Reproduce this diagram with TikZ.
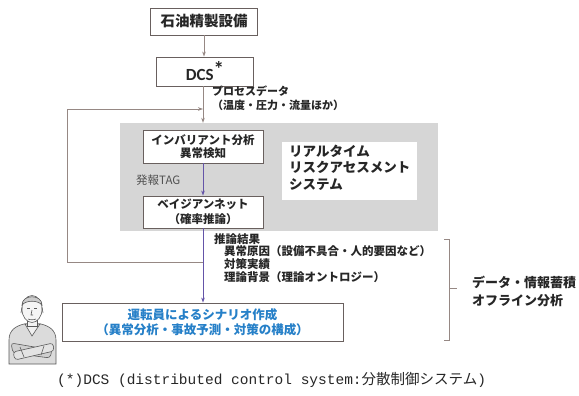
\documentclass[tikz,border=0pt]{standalone}
\usepackage{fontspec}
\setmainfont{Noto Sans CJK JP}
\newfontfamily\latf{Carlito}
\newfontfamily\monof{Liberation Mono}
\newfontfamily\jpf{Noto Sans CJK JP}
\usetikzlibrary{arrows.meta,calc}

\definecolor{boxline}{RGB}{105,96,94}
\definecolor{conn}{RGB}{150,136,132}
\definecolor{flowc}{RGB}{100,84,168}
\definecolor{panelfill}{RGB}{214,214,214}
\definecolor{scentext}{RGB}{38,128,200}
\definecolor{ink}{RGB}{38,38,38}

\tikzset{
  procbox/.style={draw=boxline, line width=0.9pt, fill=white, inner sep=0pt, text=ink},
  connline/.style={draw=conn, line width=0.8pt},
  flowline/.style={draw=flowc, line width=0.8pt},
  tip/.style={-{Stealth[length=5pt,width=3.6pt]}},
  jlabel/.style={inner sep=0pt, text=ink, font=\bfseries\fontsize{11.5}{12.7}\selectfont, align=left},
}

\begin{document}
\begin{tikzpicture}[x=1pt,y=-1pt]
\useasboundingbox[fill=white] (0,0) rectangle (579,396);

% gray panel holding the real-time system
\node[fill=panelfill, minimum width=318pt, minimum height=108pt, inner sep=0pt] (panel) at (279,177) {};
\node[fill=white, minimum width=135pt, minimum height=58pt, inner sep=0pt] (rtbox) at (349.5,171) {};
\node[anchor=north west, inner sep=0pt, text=ink, align=left,
      font=\bfseries\fontsize{13.5}{16.5}\selectfont] (rttext) at (289,144.5)
  {リアルタイム\\リスクアセスメント\\システム};

% main process boxes
\node[procbox, minimum width=107pt, minimum height=27pt,
      font=\bfseries\fontsize{14.5}{17}\selectfont] (plant) at (204,21.5) {石油精製設備};
\node[procbox, minimum width=97pt, minimum height=29pt] (dcs) at (205,71.5)
  {\latf\bfseries\fontsize{17}{20}\selectfont DCS\raisebox{4pt}{\fontsize{21}{21}\selectfont *}};
\node[procbox, minimum width=120pt, minimum height=33pt, align=center,
      font=\bfseries\fontsize{11.5}{13}\selectfont] (inv) at (203,146.5)
  {インバリアント分析\\異常検知};
\node[procbox, minimum width=120pt, minimum height=32pt, align=center,
      font=\bfseries\fontsize{11.5}{15}\selectfont] (bayes) at (203,212)
  {ベイジアンネット\\（確率推論）};
\node[procbox, minimum width=281pt, minimum height=38pt, align=center, text=scentext,
      font=\bfseries\fontsize{12.5}{14.5}\selectfont] (scen) at (202.5,322)
  {運転員によるシナリオ作成\\（異常分析・事故予測・対策の構成）};

% labels
\node[anchor=north west, inner sep=0pt, text=ink, align=left,
      font=\bfseries\fontsize{11}{14}\selectfont] (proc) at (212,86)
  {プロセスデータ\\（温度・圧力・流量ほか）};
\node[anchor=west, inner sep=0pt, text=ink!80,
      font=\fontsize{11.5}{13}\selectfont] (tag) at (136,180) {発報TAG};
\node[jlabel, anchor=north west] (result) at (214,233)
  {推論結果\\
   \hspace*{10pt}異常原因（設備不具合・人的要因など）\\
   \hspace*{10pt}対策実績\\
   \hspace*{10pt}理論背景（理論オントロジー）};
\node[anchor=west, inner sep=0pt, text=ink, align=left,
      font=\bfseries\fontsize{13}{18}\selectfont] (offline) at (472,291)
  {データ・情報蓄積\\オフライン分析};

% footnote
\node[anchor=west, inner sep=0pt, text=ink] (note) at (57,380)
  {\fontsize{14.5}{16}\selectfont{\monof (*)DCS (distributed control system:}{\jpf 分散制御システム}{\monof )}};

% connectors
\draw[connline, tip] (plant.south) -- (plant.south |- dcs.north);
\draw[connline, tip] (dcs.south -| inv.north) -- (panel.north -| inv.north);
\draw[flowline, tip] (inv.south) -- (bayes.north);
\draw[flowline, tip] (bayes.south) -- (scen.north -| bayes.south);

% feedback loop back to the process data line
\coordinate (fbj) at (bayes.south |- 0,262);
\coordinate (fbl) at (67,262);
\coordinate (ftl) at (67,109);
\coordinate (fin) at (inv.north |- 0,109);
\draw[connline, tip] (fbj) -- (fbl) -- (ftl) -- (fin);

% bracket grouping the results
\coordinate (bt) at (449,239);
\coordinate (bb) at (449,340);
\coordinate (bm) at (449,288);
\draw[connline, line width=0.7pt] ($(bt)+(-5,0)$) -- (bt) -- (bb) -- ($(bb)+(-5,0)$);
\draw[connline, line width=0.7pt] (bm) -- ($(bm)+(8,0)$);

% operator figure with crossed arms
\begin{scope}[draw=gray!70!black, line width=0.6pt]
  % torso
  \filldraw[fill=gray!28] (9,364) -- (9,340) .. controls (9,330) and (16,326) .. (24,324)
    -- (41,324) .. controls (49,326) and (56,330) .. (56,340) -- (56,364) -- cycle;
  % collar
  \filldraw[fill=gray!12] (25,324) -- (32,336) -- (40,324) -- cycle;
  % neck
  \filldraw[fill=gray!10] (27,318) rectangle (37,326);
  % head
  \filldraw[fill=gray!8] (32,309) ellipse [x radius=10, y radius=13.5];
  % hair and cap line
  \filldraw[fill=gray!40] (22,305) .. controls (22,294) and (42,294) .. (42,305)
    .. controls (38,300) and (26,300) .. (22,305) -- cycle;
  \draw (22,307) -- (21,313);
  \draw (42,307) -- (43,313);
  % face
  \draw (27,308) -- (30,308);
  \draw (34,308) -- (37,308);
  \draw (32,310) -- (31,315) -- (33,315);
  \draw (28,319) .. controls (30,320) and (34,320) .. (36,319);
  % crossed arms
  \filldraw[fill=gray!38, rounded corners=3pt] (11,343) -- (52,350) -- (50,358) -- (13,353) -- cycle;
  \filldraw[fill=gray!22, rounded corners=3pt] (13,352) -- (53,343) -- (54,351) -- (15,360) -- cycle;
  \draw (20,347) -- (24,357);
  \draw (44,346) -- (41,355);
\end{scope}

\end{tikzpicture}
\end{document}
